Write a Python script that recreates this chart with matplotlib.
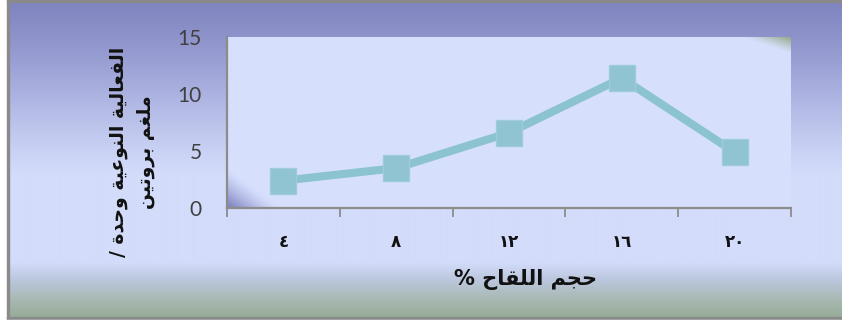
import numpy as np
import matplotlib
matplotlib.use("Agg")
import matplotlib.pyplot as plt
from matplotlib.colors import to_rgb
from matplotlib.patches import Rectangle

# ---- data ----
categories = ["٤", "٨", "١٢", "١٦", "٢٠"]
activity = [2.4, 3.5, 6.6, 11.4, 4.9]
y_ticks = [0, 5, 10, 15]
x_title = "حجم اللقاح %"
y_title_lines = ["الفعالية النوعية وحدة /", "ملغم بروتين"]

# ---- minimal Arabic shaping (presentation forms, visual order) ----
FORMS = {
    'ا': (0xFE8D, 0xFE8E, None, None),
    'ب': (0xFE8F, 0xFE90, 0xFE91, 0xFE92),
    'ة': (0xFE93, 0xFE94, None, None),
    'ت': (0xFE95, 0xFE96, 0xFE97, 0xFE98),
    'ج': (0xFE9D, 0xFE9E, 0xFE9F, 0xFEA0),
    'ح': (0xFEA1, 0xFEA2, 0xFEA3, 0xFEA4),
    'د': (0xFEA9, 0xFEAA, None, None),
    'ر': (0xFEAD, 0xFEAE, None, None),
    'ع': (0xFEC9, 0xFECA, 0xFECB, 0xFECC),
    'غ': (0xFECD, 0xFECE, 0xFECF, 0xFED0),
    'ف': (0xFED1, 0xFED2, 0xFED3, 0xFED4),
    'ق': (0xFED5, 0xFED6, 0xFED7, 0xFED8),
    'ل': (0xFEDD, 0xFEDE, 0xFEDF, 0xFEE0),
    'م': (0xFEE1, 0xFEE2, 0xFEE3, 0xFEE4),
    'ن': (0xFEE5, 0xFEE6, 0xFEE7, 0xFEE8),
    'و': (0xFEED, 0xFEEE, None, None),
    'ي': (0xFEF1, 0xFEF2, 0xFEF3, 0xFEF4),
}


def shape(text):
    out = []
    n = len(text)
    for i, ch in enumerate(text):
        if ch not in FORMS:
            out.append(ch)
            continue
        iso, fin, ini, med = FORMS[ch]
        prev = text[i - 1] if i > 0 else ''
        nxt = text[i + 1] if i + 1 < n else ''
        join_prev = prev in FORMS and FORMS[prev][2] is not None
        join_next = nxt in FORMS and ini is not None
        if join_prev and join_next:
            code = med
        elif join_prev:
            code = fin
        elif join_next:
            code = ini
        else:
            code = iso
        out.append(chr(code))
    return ''.join(reversed(out))


W, H = 842, 322
fig = plt.figure(figsize=(W / 100, H / 100), dpi=100)
fig.patch.set_facecolor("white")

# ---- background panel with vertical gradient ----
bg = fig.add_axes([0, 0, 1, 1])
bg.set_xlim(0, W)
bg.set_ylim(H, 0)
bg.axis("off")
stops_y = [0, 50, 100, 150, 175, 262, 280, 300, 317]
stops_c = ["#7f83bf", "#9499cf", "#afb6e3", "#c9d2f4", "#d3dcfa",
           "#d3dcfa", "#bac6dc", "#a8b8b0", "#96ac96"]
rgb = np.array([to_rgb(c) for c in stops_c])
yy = np.arange(H)
col = np.stack([np.interp(yy, stops_y, rgb[:, k]) for k in range(3)], axis=1)
grad = np.repeat(col[:, None, :], 8, axis=1)
bg.imshow(grad, extent=[9, W, H, 0], aspect="auto", interpolation="bilinear", zorder=0)
bg.add_patch(Rectangle((7, 0), 2.2, 319, color="#8a8a8a", zorder=2))
bg.add_patch(Rectangle((7, 0), W - 7, 1.5, color="#8a8a8a", zorder=2))
bg.add_patch(Rectangle((7, 316.8), W - 7, 3.2, color="#8a8a8a", zorder=2))
bg.add_patch(Rectangle((0, 320), W, 2, color="white", zorder=2))

# ---- plot area ----
L, R, T, B = 227, 791, 37, 208
ax = fig.add_axes([L / W, (H - B) / H, (R - L) / W, (B - T) / H])
ax.set_xlim(0.5, 5.5)
ax.set_ylim(0, 15)
ax.patch.set_alpha(0)

pw, ph = R - L, B - T
px, py = np.meshgrid(np.arange(pw) + 0.5, np.arange(ph) + 0.5)  # py from top
base = np.array(to_rgb("#d6e0fd"))
img = np.ones((ph, pw, 3)) * base
# purple glow in the lower-left corner
dist_bl = px / 55.0 + (ph - py) / 40.0
t_bl = np.clip(1 - dist_bl, 0, 1) ** 1.3
purple = np.array(to_rgb("#7679b9"))
img = img * (1 - t_bl[..., None]) + purple * t_bl[..., None]
# green tint in the upper-right corner
dist_tr = (pw - px) / 50.0 + py / 17.0
t_tr = np.clip(1 - dist_tr, 0, 1) ** 1.2
green = np.array(to_rgb("#93a684"))
img = img * (1 - t_tr[..., None]) + green * t_tr[..., None]
ax.imshow(img, extent=[0.5, 5.5, 0, 15], aspect="auto", zorder=0,
          interpolation="bilinear")

x = np.arange(1, len(categories) + 1)
ax.plot(x, activity, color="#8cc3d0", lw=5.8, zorder=3,
        solid_capstyle="butt")
ax.plot(x, activity, ls="none", marker="s", ms=18.5, mfc="#90c4d2",
        mec="#9fccd8", mew=1.0, zorder=4)

for s in ["top", "right"]:
    ax.spines[s].set_visible(False)
for s in ["left", "bottom"]:
    ax.spines[s].set_color("#8c8c8c")
    ax.spines[s].set_linewidth(1.6)

ax.set_yticks(y_ticks)
ax.set_yticklabels([str(v) for v in y_ticks], fontfamily="Lato",
                   fontsize=15, color="#404040")
ax.tick_params(axis="y", length=0, pad=18)

ax.set_xticks(x)
ax.set_xticklabels(categories, fontfamily="DejaVu Sans", fontweight="bold",
                   fontsize=12, color="#111111")
ax.tick_params(axis="x", which="major", length=0, pad=18)
ax.set_xticks(np.arange(0.5, len(categories) + 1, 1.0), minor=True)
ax.tick_params(axis="x", which="minor", length=6.5, width=1.3,
               color="#8c8c8c", direction="out")

fig.text(525 / W, 1 - 279 / H, shape(x_title), ha="center", va="center",
         fontfamily="DejaVu Sans", fontweight="bold", fontsize=15,
         color="#111111")
fig.text(132 / W, 1 - 152 / H, "\n".join(shape(s) for s in y_title_lines),
         rotation=90, ha="center", va="center", multialignment="center",
         fontfamily="DejaVu Sans", fontweight="bold", fontsize=13.5,
         linespacing=1.45, color="#111111")

fig.savefig("out.png", dpi=100)
